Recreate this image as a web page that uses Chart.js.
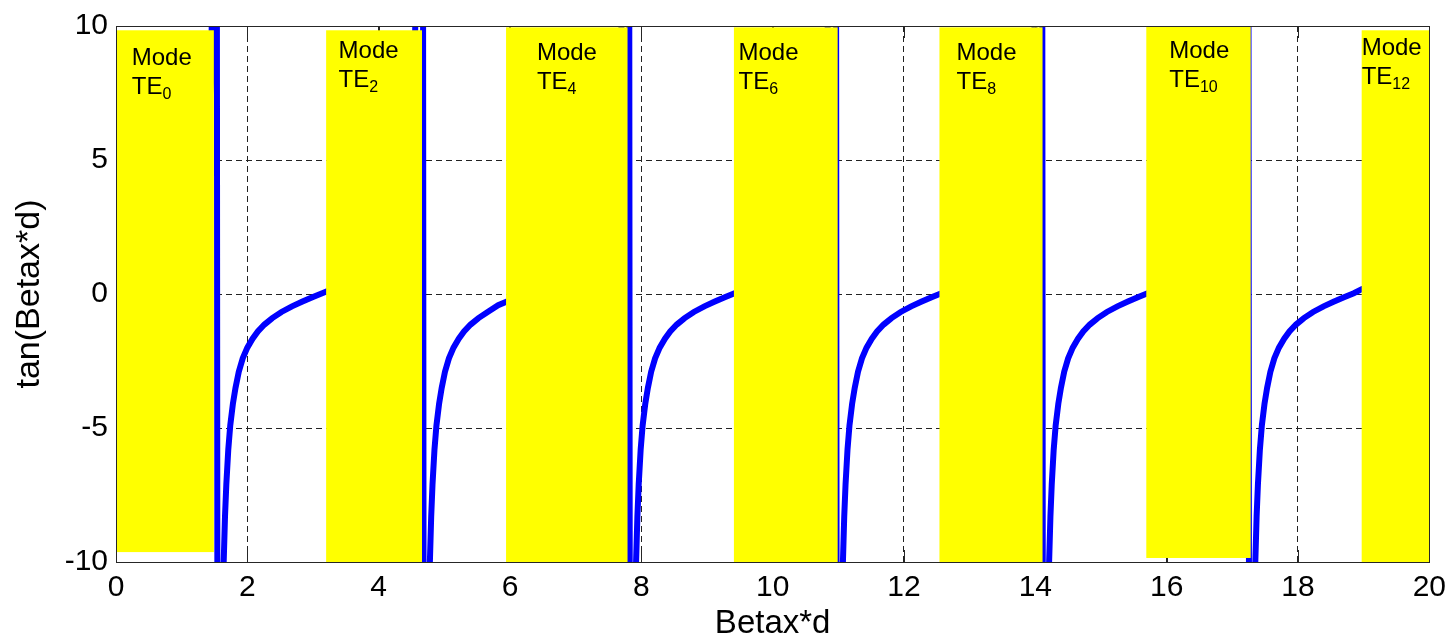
<!DOCTYPE html>
<html lang="en">
<head>
<meta charset="UTF-8">
<title>tan(Betax*d)</title>
<script src="https://cdn.jsdelivr.net/npm/chart.js@4.4.1/dist/chart.umd.min.js"></script>
<style>
  html, body { margin: 0; padding: 0; background: #fff; }
</style>
</head>
<body>
<canvas id="chart" width="1454" height="640"></canvas>
<script>
// tan(Betax*d) curve, one x/y pair of arrays per branch
const leadX = [0, 0.5, 1.0, 1.3, 1.45, 1.53];
const leadY = [0, 0.55, 1.5, 3.4, 8, 30];

const branch1X = [1.55, 1.60, 1.64, 1.66, 1.68, 1.71, 1.74, 1.78, 1.82, 1.87, 1.93, 2.00, 2.08, 2.16, 2.26, 2.38, 2.52, 2.68, 2.84, 3.00, 3.14, 3.26, 3.44, 3.74, 4.04, 4.34, 4.54, 4.67];
const branch1Y = [-30, -16.6, -10.0, -8.3, -7.1, -5.8, -4.9, -4.1, -3.5, -2.9, -2.4, -2.0, -1.67, -1.40, -1.14, -0.90, -0.67, -0.46, -0.28, -0.11, 0.03, 0.15, 0.34, 0.73, 1.34, 2.8, 7.0, 30];

const branch2X = [4.69, 4.74, 4.78, 4.80, 4.82, 4.85, 4.88, 4.92, 4.96, 5.01, 5.07, 5.14, 5.22, 5.30, 5.40, 5.52, 5.66, 5.82, 5.98, 6.14, 6.28, 6.40, 6.58, 6.88, 7.18, 7.48, 7.68, 7.81];
const branch2Y = [-30, -16.6, -10.0, -8.3, -7.1, -5.8, -4.9, -4.1, -3.5, -2.9, -2.4, -2.0, -1.67, -1.40, -1.14, -0.90, -0.67, -0.42, -0.25, -0.11, 0.03, 0.15, 0.34, 0.73, 1.34, 2.8, 7.0, 30];

const branch3X = [7.83, 7.88, 7.92, 7.94, 7.96, 7.99, 8.02, 8.06, 8.10, 8.15, 8.21, 8.28, 8.36, 8.44, 8.54, 8.66, 8.80, 8.96, 9.12, 9.28, 9.42, 9.54, 9.72, 10.02, 10.32, 10.62, 10.82, 10.96];
const branch3Y = [-30, -16.6, -10.0, -8.3, -7.1, -5.8, -4.9, -4.1, -3.5, -2.9, -2.4, -2.0, -1.67, -1.40, -1.14, -0.90, -0.67, -0.46, -0.28, -0.11, 0.03, 0.15, 0.34, 0.73, 1.34, 2.8, 7.0, 30];

const branch4X = [10.98, 11.03, 11.07, 11.09, 11.11, 11.14, 11.17, 11.21, 11.25, 11.30, 11.36, 11.43, 11.51, 11.59, 11.69, 11.81, 11.95, 12.11, 12.27, 12.43, 12.57, 12.69, 12.87, 13.17, 13.47, 13.77, 13.97, 14.10];
const branch4Y = [-30, -16.6, -10.0, -8.3, -7.1, -5.8, -4.9, -4.1, -3.5, -2.9, -2.4, -2.0, -1.67, -1.40, -1.14, -0.90, -0.67, -0.46, -0.28, -0.11, 0.03, 0.15, 0.34, 0.73, 1.34, 2.8, 7.0, 30];

const branch5X = [14.12, 14.17, 14.21, 14.23, 14.25, 14.28, 14.31, 14.35, 14.39, 14.44, 14.50, 14.57, 14.65, 14.73, 14.83, 14.95, 15.09, 15.25, 15.41, 15.57, 15.71, 15.83, 16.01, 16.31, 16.61, 16.91, 17.11, 17.24];
const branch5Y = [-30, -16.6, -10.0, -8.3, -7.1, -5.8, -4.9, -4.1, -3.5, -2.9, -2.4, -2.0, -1.67, -1.40, -1.14, -0.90, -0.67, -0.46, -0.28, -0.11, 0.03, 0.15, 0.34, 0.73, 1.34, 2.8, 7.0, 30];

const branch6X = [17.26, 17.31, 17.35, 17.37, 17.39, 17.42, 17.45, 17.49, 17.53, 17.58, 17.64, 17.71, 17.79, 17.87, 17.97, 18.09, 18.23, 18.39, 18.55, 18.71, 18.85, 18.97, 19.15, 19.45, 19.75, 20.0];
const branch6Y = [-30, -16.6, -10.0, -8.3, -7.1, -5.8, -4.9, -4.1, -3.5, -2.9, -2.4, -2.0, -1.67, -1.40, -1.14, -0.90, -0.67, -0.46, -0.28, -0.11, 0.03, 0.18, 0.34, 0.73, 1.34, 2.4];

// yellow mode boxes (data units) and their labels
const modeNames  = ['0', '2', '4', '6', '8', '10', '12'];
const modeFrom   = [0.015, 3.20, 5.94, 9.41, 12.54, 15.69, 18.97];
const modeTo     = [1.49, 4.66, 7.79, 10.99, 14.11, 17.28, 20.0];
const modeTop    = [9.84, 9.84, 9.95, 9.95, 9.95, 10.0, 9.84];
const modeBottom = [-9.63, -10, -10, -10, -10, -9.85, -10];
const labelX     = [0.24, 3.39, 6.41, 9.48, 12.80, 16.04, 18.97];
const labelY     = [8.55, 8.80, 8.73, 8.73, 8.73, 8.81, 8.92];

const xTicks = [0, 2, 4, 6, 8, 10, 12, 14, 16, 18, 20];
const yTicks = [-10, -5, 0, 5, 10];

function toPoints(xs, ys) {
  return xs.map((v, i) => ({x: v, y: ys[i]}));
}

const curve = [].concat(
  toPoints(leadX, leadY),
  toPoints(branch1X, branch1Y),
  toPoints(branch2X, branch2Y),
  toPoints(branch3X, branch3Y),
  toPoints(branch4X, branch4Y),
  toPoints(branch5X, branch5Y),
  toPoints(branch6X, branch6Y)
);

const FONT = 'Arial, "Liberation Sans", sans-serif';
const AXIS = '#262626';
const GRID = '#222222';

const modeBoxes = {
  id: 'modeBoxes',
  afterDatasetsDraw(chart) {
    const {ctx, chartArea: a, scales: {x, y}} = chart;
    ctx.save();

    // inward tick marks
    ctx.strokeStyle = AXIS;
    ctx.lineWidth = 1;
    ctx.beginPath();
    xTicks.forEach(v => {
      const px = Math.round(x.getPixelForValue(v)) + 0.5;
      ctx.moveTo(px, a.bottom); ctx.lineTo(px, a.bottom - 12);
      ctx.moveTo(px, a.top); ctx.lineTo(px, a.top + 12);
    });
    yTicks.forEach(v => {
      const py = Math.round(y.getPixelForValue(v)) + 0.5;
      ctx.moveTo(a.left, py); ctx.lineTo(a.left + 12, py);
      ctx.moveTo(a.right, py); ctx.lineTo(a.right - 12, py);
    });
    ctx.stroke();

    // yellow boxes
    ctx.fillStyle = '#ffff00';
    modeFrom.forEach((x0, i) => {
      const l = x.getPixelForValue(x0);
      const r = x.getPixelForValue(modeTo[i]);
      const t = y.getPixelForValue(modeTop[i]);
      const b = y.getPixelForValue(modeBottom[i]);
      ctx.fillRect(l, t, r - l, b - t);
    });

    // "Mode / TE_n" labels
    ctx.fillStyle = '#000';
    ctx.textBaseline = 'alphabetic';
    ctx.textAlign = 'left';
    modeNames.forEach((n, i) => {
      const lx = x.getPixelForValue(labelX[i]);
      const ly = y.getPixelForValue(labelY[i]);
      ctx.font = '24px ' + FONT;
      ctx.fillText('Mode', lx, ly);
      ctx.fillText('TE', lx, ly + 29);
      const w = ctx.measureText('TE').width;
      ctx.font = '16px ' + FONT;
      ctx.fillText(n, lx + w, ly + 34);
    });

    // axes box
    ctx.strokeStyle = AXIS;
    ctx.lineWidth = 1;
    ctx.strokeRect(Math.round(a.left) + 0.5, Math.round(a.top) + 0.5,
                   Math.round(a.right) - Math.round(a.left), Math.round(a.bottom) - Math.round(a.top));
    ctx.restore();
  }
};

const ctx = document.getElementById('chart').getContext('2d');
new Chart(ctx, {
  type: 'line',
  data: {
    datasets: [{
      data: curve,
      borderColor: '#0000ff',
      borderWidth: 6,
      pointRadius: 0,
      tension: 0,
      fill: false,
      clip: 0
    }]
  },
  options: {
    responsive: false,
    animation: false,
    events: [],
    layout: { padding: { left: 0, top: 21, right: 24, bottom: 0 } },
    plugins: { legend: { display: false }, tooltip: { enabled: false } },
    scales: {
      x: {
        type: 'linear',
        min: 0,
        max: 20,
        afterBuildTicks: s => { s.ticks = xTicks.map(v => ({value: v})); },
        afterFit: s => { s.height = 78; },
        ticks: { color: '#000', padding: 8, font: { family: FONT, size: 30 }, maxRotation: 0 },
        grid: {
          drawTicks: false,
          lineWidth: 1,
          color: c => (c.tick && (c.tick.value === 0 || c.tick.value === 20)) ? 'rgba(0,0,0,0)' : GRID
        },
        border: { display: false, dash: [6, 4] },
        title: { display: true, text: 'Betax*d', color: '#000', padding: { top: 0, bottom: 0 },
                 font: { family: FONT, size: 33, lineHeight: 1.0 } }
      },
      y: {
        type: 'linear',
        min: -10,
        max: 10,
        afterBuildTicks: s => { s.ticks = yTicks.map(v => ({value: v})); },
        afterFit: s => { s.width = 116; },
        ticks: { color: '#000', padding: 8, font: { family: FONT, size: 30 } },
        grid: {
          drawTicks: false,
          lineWidth: 1,
          color: c => (c.tick && (c.tick.value === -10 || c.tick.value === 10)) ? 'rgba(0,0,0,0)' : GRID
        },
        border: { display: false, dash: [6, 4] },
        title: { display: true, text: 'tan(Betax*d)', color: '#000', padding: { top: 9, bottom: 0 },
                 font: { family: FONT, size: 34 } }
      }
    }
  },
  plugins: [modeBoxes]
});
</script>
</body>
</html>
